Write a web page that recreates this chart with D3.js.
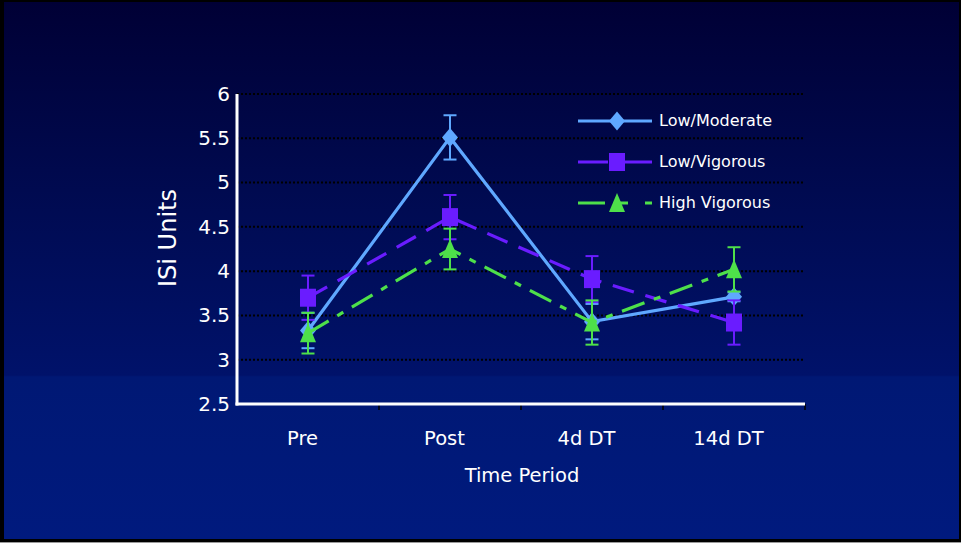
<!DOCTYPE html>
<html>
<head>
<meta charset="utf-8">
<script src="https://cdn.jsdelivr.net/npm/d3@7"></script>
<style>
  html, body { margin: 0; padding: 0; background: #000; }
  svg { display: block; }
  text { font-family: "DejaVu Sans", Verdana, sans-serif; fill: #ffffff; }
</style>
</head>
<body>
<svg id="chart" width="961" height="543"></svg>
<script>
// Time periods on the x axis
const periods = ["Pre", "Post", "4d DT", "14d DT"];

// Mean ISi values per group and period
const lowModerate = [3.33, 5.51, 3.43, 3.71];
const lowVigorous = [3.70, 4.61, 3.91, 3.42];
const highVigorous = [3.30, 4.25, 3.42, 4.02];

// Error bar half-widths per group and period
const lowModerateErr = [0.20, 0.25, 0.20, 0.05];
const lowVigorousErr = [0.25, 0.25, 0.26, 0.25];
const highVigorousErr = [0.23, 0.23, 0.25, 0.25];

// Y axis ticks
const yTicks = [2.5, 3, 3.5, 4, 4.5, 5, 5.5, 6];

const seriesNames = ["Low/Moderate", "Low/Vigorous", "High Vigorous"];

const series = [
  { name: seriesNames[0], values: lowModerate, err: lowModerateErr, color: "#5fa8ff",
    dash: null, legendDash: null, marker: "diamond" },
  { name: seriesNames[1], values: lowVigorous, err: lowVigorousErr, color: "#6a1cff",
    dash: "22,12", legendDash: "30,8,40", marker: "square" },
  { name: seriesNames[2], values: highVigorous, err: highVigorousErr, color: "#4ee04a",
    dash: "24,10,7,10", legendDash: "27,9,14,17,8", marker: "triangle" }
];

const W = 961, H = 543;
const svg = d3.select("#chart");

// Background: dark navy vertical gradient inside a black frame
const defs = svg.append("defs");
const grad = defs.append("linearGradient").attr("id", "bg").attr("x1", 0).attr("y1", 0).attr("x2", 0).attr("y2", 1);
grad.append("stop").attr("offset", "0%").attr("stop-color", "#000035");
grad.append("stop").attr("offset", "35%").attr("stop-color", "#000a50");
grad.append("stop").attr("offset", "69.5%").attr("stop-color", "#00126a");
grad.append("stop").attr("offset", "69.8%").attr("stop-color", "#001874");
grad.append("stop").attr("offset", "100%").attr("stop-color", "#001a7e");

svg.append("rect").attr("width", W).attr("height", H).attr("fill", "#000");
svg.append("rect").attr("x", 4).attr("y", 2).attr("width", W - 6).attr("height", H - 6).attr("fill", "url(#bg)");
svg.append("rect").attr("x", 0).attr("y", H - 1).attr("width", W).attr("height", 1).attr("fill", "#9a9a9a");

const plot = { left: 237, right: 805, top: 94, bottom: 404 };

const x = d3.scalePoint().domain(periods).range([plot.left, plot.right]).padding(0.5);
const y = d3.scaleLinear().domain([2.5, 6]).range([plot.bottom, plot.top]);

// Dotted horizontal gridlines
svg.append("g")
  .selectAll("line")
  .data(yTicks.filter(t => t > 2.5))
  .join("line")
  .attr("x1", plot.left).attr("x2", plot.right)
  .attr("y1", d => y(d)).attr("y2", d => y(d))
  .attr("stroke", "#000000")
  .attr("stroke-width", 2)
  .attr("stroke-dasharray", "2,2");

// Y axis labels
const yAxis = d3.axisLeft(y).tickValues(yTicks).tickSize(0).tickPadding(7).tickFormat(d3.format("~g"));
const gy = svg.append("g").attr("transform", `translate(${plot.left},0)`).call(yAxis);
gy.select(".domain").remove();
gy.selectAll("text").attr("font-size", 20).attr("fill", "#fff").attr("font-family", "DejaVu Sans, Verdana, sans-serif");

// X axis labels (tick marks sit between categories)
const xAxis = d3.axisBottom(x).tickSize(0).tickPadding(0);
const gx = svg.append("g").attr("transform", `translate(0,${plot.bottom})`).call(xAxis);
gx.select(".domain").remove();
gx.selectAll("text")
  .attr("font-size", 19.5).attr("fill", "#fff").attr("font-family", "DejaVu Sans, Verdana, sans-serif")
  .attr("dy", null).attr("y", 41).attr("x", -6);

const step = x.step();
svg.append("g")
  .selectAll("line")
  .data(periods)
  .join("line")
  .attr("x1", d => x(d) + step / 2).attr("x2", d => x(d) + step / 2)
  .attr("y1", plot.bottom).attr("y2", plot.bottom + 6)
  .attr("stroke", "#000").attr("stroke-width", 1.5);

// Axis lines
svg.append("line").attr("x1", plot.left).attr("x2", plot.left).attr("y1", plot.top).attr("y2", plot.bottom + 1.5)
  .attr("stroke", "#fff").attr("stroke-width", 3);
svg.append("line").attr("x1", plot.left - 1.5).attr("x2", plot.right).attr("y1", plot.bottom).attr("y2", plot.bottom)
  .attr("stroke", "#fff").attr("stroke-width", 3);

// Axis titles
svg.append("text")
  .attr("transform", `translate(176,238) rotate(-90)`)
  .attr("text-anchor", "middle")
  .attr("font-size", 24)
  .text("ISi Units");
svg.append("text")
  .attr("x", 522)
  .attr("y", 482)
  .attr("text-anchor", "middle")
  .attr("font-size", 19.5)
  .text("Time Period");

// Marker shapes
function markerPath(kind) {
  if (kind === "diamond") return "M0,-9.5L8,0L0,9.5L-8,0Z";
  if (kind === "square") return "M-8,-9L8,-9L8,9L-8,9Z";
  return "M0,-10L8,9L-8,9Z";
}

const line = d3.line().x((d, i) => x(periods[i])).y(d => y(d));

series.forEach(s => {
  const g = svg.append("g");
  // connecting line
  g.append("path")
    .datum(s.values)
    .attr("d", line)
    .attr("fill", "none")
    .attr("stroke", s.color)
    .attr("stroke-width", 3.2)
    .attr("stroke-dasharray", s.dash);
  // error bars
  const eb = g.selectAll(".eb").data(s.values.map((v, i) => ({ v, e: s.err[i], p: periods[i] }))).join("g");
  eb.append("line")
    .attr("x1", d => x(d.p)).attr("x2", d => x(d.p))
    .attr("y1", d => y(d.v + d.e)).attr("y2", d => y(d.v - d.e))
    .attr("stroke", s.color).attr("stroke-width", 2);
  [1, -1].forEach(sign => {
    eb.append("line")
      .attr("x1", d => x(d.p) - 6.5).attr("x2", d => x(d.p) + 6.5)
      .attr("y1", d => y(d.v + sign * d.e)).attr("y2", d => y(d.v + sign * d.e))
      .attr("stroke", s.color).attr("stroke-width", 2);
  });
  // markers
  g.selectAll(".mk").data(s.values).join("path")
    .attr("transform", (d, i) => `translate(${x(periods[i])},${y(d)})`)
    .attr("d", markerPath(s.marker))
    .attr("fill", s.color);
});

// Legend
const legend = svg.append("g");
const legendY = [121, 162, 203];
series.forEach((s, i) => {
  const ly = legendY[i];
  legend.append("line")
    .attr("x1", 578).attr("x2", 652).attr("y1", ly).attr("y2", ly)
    .attr("stroke", s.color).attr("stroke-width", 3.2)
    .attr("stroke-dasharray", s.legendDash);
  legend.append("path")
    .attr("transform", `translate(617,${ly})`)
    .attr("d", markerPath(s.marker))
    .attr("fill", s.color);
  legend.append("text")
    .attr("x", 659).attr("y", ly + 5)
    .attr("font-size", 16)
    .text(s.name);
});
</script>
</body>
</html>
